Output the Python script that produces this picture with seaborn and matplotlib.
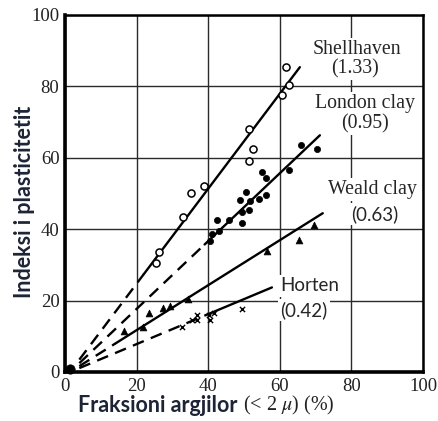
import matplotlib
matplotlib.use("Agg")
import matplotlib.pyplot as plt
import pandas as pd
import seaborn as sns

# Measured points: clay fraction (< 2 micron, %) vs plasticity index
shell_x = [25.4, 26.3, 33.0, 35.2, 38.8, 51.3, 52.4, 51.3, 60.5, 62.5, 61.7]
shell_y = [30.6, 33.7, 43.5, 50.0, 52.2, 59.2, 62.5, 68.2, 77.6, 80.3, 85.3]

london_x = [40.5, 41.2, 42.9, 42.4, 45.8, 49.5, 51.4, 49.5, 48.8, 51.8, 54.2,
            56.1, 50.5, 55.1, 56.1, 62.5, 65.9, 70.3]
london_y = [36.8, 38.6, 39.4, 42.5, 42.6, 44.7, 45.4, 41.8, 48.1, 47.9, 48.4,
            49.7, 50.5, 56.1, 54.3, 56.5, 63.6, 62.6]

weald_x = [16.5, 21.8, 23.5, 27.5, 29.3, 34.3, 56.5, 65.3, 69.6]
weald_y = [11.4, 12.5, 16.4, 17.8, 18.6, 20.5, 33.8, 36.9, 41.2]

horten_x = [32.6, 35.5, 36.8, 36.8, 40.3, 40.5, 41.5, 49.5]
horten_y = [12.5, 14.6, 16.0, 14.7, 16.0, 14.5, 16.5, 17.7]

origin_x = [1.4]
origin_y = [0.8]

# Activity lines (slope = activity), extrapolated part dashed
soils = ["Shellhaven", "London clay", "Weald clay", "Horten"]
activity = [1.33, 0.95, 0.63, 0.42]
dash_start = [4.0, 4.0, 4.0, 4.0]
solid_start = [22.0, 39.0, 14.0, 40.0]
solid_end = [65.6, 71.2, 72.0, 57.8]
pivot_x = 1.4

x_ticks = [0, 20, 40, 60, 80, 100]
y_ticks = [0, 20, 40, 60, 80, 100]

sns.set_style("white")
plt.rcParams["mathtext.fontset"] = "stix"
serif = ["Liberation Serif", "DejaVu Serif"]
sans = ["Lato", "DejaVu Sans"]
navy = "#1d2436"

fig = plt.figure(figsize=(4.39, 4.21), dpi=100)
ax = fig.add_axes([65 / 439, 1 - 372 / 421, 358 / 439, 357 / 421])


def seg(x0, x1, a):
    return pd.DataFrame({"x": [x0, x1], "y": [a * (x0 - pivot_x), a * (x1 - pivot_x)]})


for a, d0, s0, s1 in zip(activity, dash_start, solid_start, solid_end):
    dd = seg(d0, s0, a)
    sns.lineplot(data=dd, x="x", y="y", ax=ax, color="black", lw=1.7,
                 linestyle=(0, (5.0, 3.2)), zorder=3)
    ss = seg(s0, s1, a)
    sns.lineplot(data=ss, x="x", y="y", ax=ax, color="black", lw=1.7, zorder=3)

sns.scatterplot(x=shell_x, y=shell_y, ax=ax, marker="o", s=26,
                facecolor="white", edgecolor="black", linewidth=1.1, zorder=4)
sns.scatterplot(x=london_x, y=london_y, ax=ax, marker="o", s=20,
                color="black", edgecolor="black", linewidth=0.5, zorder=4)
sns.scatterplot(x=weald_x, y=weald_y, ax=ax, marker="^", s=24,
                color="black", edgecolor="black", linewidth=0.5, zorder=4)
sns.scatterplot(x=horten_x, y=horten_y, ax=ax, marker="x", s=14,
                color="black", linewidth=1.0, zorder=4)
sns.scatterplot(x=origin_x, y=origin_y, ax=ax, marker="o", s=45,
                color="black", edgecolor="black", zorder=5, clip_on=False)

ax.set_xlim(0, 100)
ax.set_ylim(0, 100)
ax.set_xticks(x_ticks)
ax.set_yticks(y_ticks)
ax.set_xticklabels([str(t) for t in x_ticks], family=serif, fontsize=13.5, color="#222")
ax.set_yticklabels([str(t) for t in y_ticks], family=serif, fontsize=13.5, color="#222")
ax.tick_params(length=0, pad=4)
ax.grid(True, color="#2a2a2a", lw=1.0, zorder=1)
ax.set_axisbelow(True)
for side in ["top", "right"]:
    ax.spines[side].set_linewidth(1.8)
    ax.spines[side].set_color("black")
for side in ["left", "bottom"]:
    ax.spines[side].set_linewidth(2.6)
    ax.spines[side].set_color("black")
ax.set_xlabel("")
ax.set_ylabel("")

box = dict(facecolor="white", edgecolor="none", pad=1.5)
fs = 14.3
ax.text(81.6, 90.2, "Shellhaven", family=serif, fontsize=fs, ha="center", va="center", bbox=box, zorder=6)
ax.text(81.0, 85.0, "(1.33)", family=serif, fontsize=fs, ha="center", va="center", bbox=box, zorder=6)
ax.text(83.8, 75.3, "London clay", family=serif, fontsize=fs, ha="center", va="center", bbox=box, zorder=6)
ax.text(83.8, 69.6, "(0.95)", family=serif, fontsize=fs, ha="center", va="center", bbox=box, zorder=6)
ax.text(86.0, 51.0, "Weald clay", family=serif, fontsize=fs, ha="center", va="center", bbox=box, zorder=6)
ax.text(86.6, 44.2, "(0.63)", family=sans, fontsize=13.5, ha="center", va="center", bbox=box, zorder=6)
ax.text(60.2, 24.1, "Horten", family=sans, fontsize=13.5, ha="left", va="center", bbox=box, zorder=6)
ax.text(60.2, 17.4, "(0.42)", family=sans, fontsize=13.5, ha="left", va="center", bbox=box, zorder=6)

fig.text(25 / 439, 1 - 202 / 421, "Indeksi i plasticitetit", rotation=90,
         family=sans, fontweight="bold", fontsize=15.5, color=navy,
         ha="center", va="center")
t1 = fig.text(78 / 439, 1 - 405 / 421, "Fraksioni argjilor", family=sans,
              fontweight="bold", fontsize=15.5, color=navy, ha="left", va="center")
ax.annotate(r"(< 2 $\mu$) (%)", xy=(1, 0.5), xycoords=t1, xytext=(4, 0),
            textcoords="offset points", family=serif, fontsize=14.5,
            color="#222", ha="left", va="center", annotation_clip=False)

fig.savefig("out.png", dpi=100)
